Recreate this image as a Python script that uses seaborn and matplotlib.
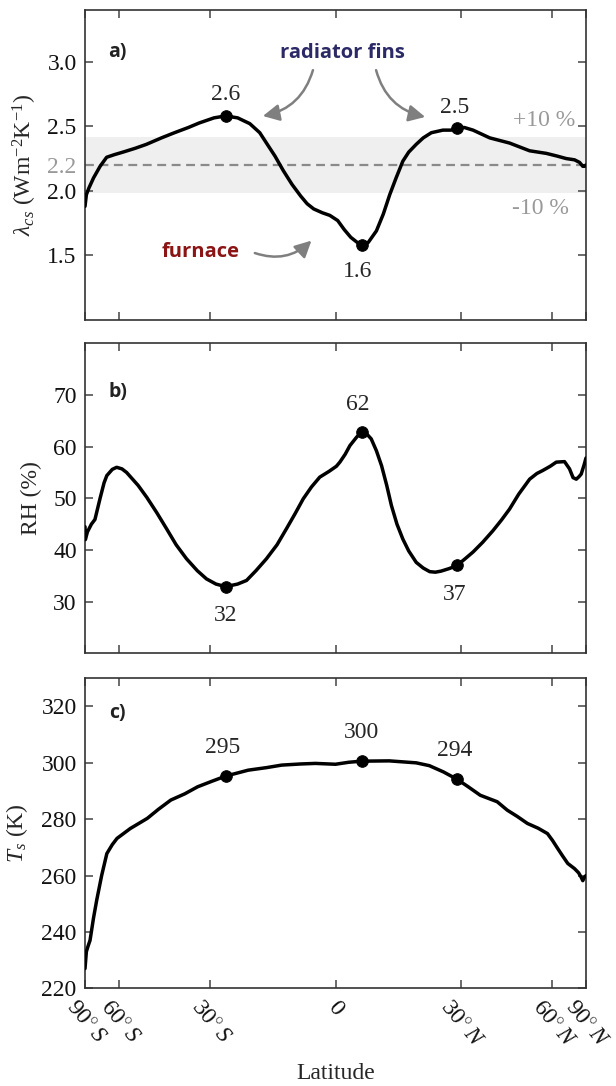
import numpy as np
import matplotlib
matplotlib.use("Agg")
import matplotlib.pyplot as plt
import seaborn as sns

# --- data (latitude in degrees) ---
lat_a = [-89.5, -84, -80, -75, -70, -66, -62, -58, -53, -49, -44, -40, -36, -33, -29,
         -26, -23, -20, -17.6, -16, -14, -12, -10, -8, -6.5, -5, -3, -1.3, 0.5, 2, 3.5,
         5, 6.2, 7.5, 9.4, 11, 12.5, 14, 15.6, 17, 18.8, 20.5, 22.5, 25.4, 27.5, 29.3,
         31, 33.3, 38, 44, 50.8, 57.3, 62, 67, 72.6, 77, 80.8, 84, 89.5]
lam_cs = [1.88, 1.97, 2.02, 2.10, 2.19, 2.26, 2.28, 2.30, 2.33, 2.36, 2.41, 2.45, 2.49, 2.525, 2.565,
          2.58, 2.565, 2.52, 2.45, 2.37, 2.27, 2.155, 2.05, 1.96, 1.90, 1.86, 1.83, 1.81, 1.77, 1.70, 1.64,
          1.60, 1.58, 1.60, 1.69, 1.82, 1.97, 2.10, 2.23, 2.30, 2.36, 2.41, 2.45, 2.47, 2.47, 2.49,
          2.49, 2.47, 2.41, 2.37, 2.31, 2.29, 2.27, 2.25, 2.24, 2.22, 2.19, 2.19, 2.20]

lat_b = [-89.5, -87, -82, -77, -73.8, -70.1, -67.5, -65.9, -63, -60.9, -58.5, -56.5, -52, -48.9,
         -45.5, -42.4, -39.5, -36.5, -33.5, -31, -28.5, -26, -23, -20.8, -18.5, -16, -13.5, -11.3,
         -9.3, -7.4, -5.5, -3.6, -1.5, 0.2, 1.0, 2.2, 3.3, 4.8, 6.0, 7.0, 8.2, 9.4, 10.6, 11.8,
         12.9, 14.2, 15.6, 17, 18.8, 20.5, 22.1, 23.5, 24.9, 27, 29, 31, 33.3, 36, 38.9, 41.5,
         44, 47, 50.8, 53.5, 55.9, 59, 61.8, 66.1, 69.1, 71.5, 74, 76.5, 78.8, 83, 89.5]
rh = [44.5, 42.0, 43.5, 45.0, 45.9, 49.9, 53.0, 54.4, 55.6, 56.0, 55.7, 55.0, 52.5, 50.2,
      47.2, 44.1, 41.0, 38.3, 36.0, 34.4, 33.4, 32.9, 33.4, 34.1, 36.0, 38.3, 41.0, 44.1,
      47.0, 49.9, 52.2, 54.1, 55.2, 56.2, 57.0, 58.5, 60.2, 61.8, 62.9, 62.6, 61.5, 59.2, 56.3, 52.5,
      48.6, 45.0, 42.1, 39.8, 37.6, 36.5, 35.8, 35.7, 35.9, 36.4, 37.0, 38.2, 39.6, 41.5, 43.7, 45.8,
      47.9, 50.8, 53.7, 54.8, 55.4, 56.2, 57.0, 57.1, 55.7, 54.0, 53.7, 54.2, 54.7, 56.5, 57.8]

lat_c = [-89.5, -84, -81, -78.5, -75, -72.4, -69, -65.9, -63, -60.7, -55, -48.7, -45, -41.1,
         -37, -33.4, -29.5, -26, -20.4, -16, -12.4, -8, -4.6, 0, 3, 6, 12.4, 18.8, 22, 25.5,
         29, 32, 35.3, 40.2, 43.3, 46.5, 50, 54, 57.8, 60, 62.5, 65, 68, 72.5, 76, 78.6,
         80.8, 84, 89.5]
ts = [227, 233, 235, 237, 245, 251.3, 260, 267.8, 271, 273.2, 276.7, 280.3, 283.5, 286.8,
      289, 291.5, 293.5, 295.3, 297.4, 298.3, 299.2, 299.6, 299.8, 299.5, 300.2, 300.6, 300.7, 300, 299, 296.8,
      294.2, 291.5, 288.5, 286.2, 283.2, 281, 278.5, 276.8, 274.9, 272.5, 269.6, 267, 264.3, 262.5, 261, 259.5,
      258.2, 259.5, 260]

mark_lat = [-26, 6, 29]
lam_mark = [2.58, 1.58, 2.49]
rh_mark = [32.9, 62.9, 37.0]
ts_mark = [295.3, 300.5, 294.2]
lam_text = ["2.6", "1.6", "2.5"]
rh_text = ["32", "62", "37"]
ts_text = ["295", "300", "294"]

lam_mean = 2.2
xticks = [-90, -60, -30, 0, 30, 60, 90]
xtick_labels = [r"$\mathit{90}^{\circ}\,\mathit{S}$", r"$\mathit{60}^{\circ}\,\mathit{S}$",
                r"$\mathit{30}^{\circ}\,\mathit{S}$", r"$\mathit{0}$",
                r"$\mathit{30}^{\circ}\,\mathit{N}$", r"$\mathit{60}^{\circ}\,\mathit{N}$",
                r"$\mathit{90}^{\circ}\,\mathit{N}$"]

sns.set_theme(style="ticks")
plt.rcParams["font.family"] = ["Liberation Serif", "DejaVu Serif"]
plt.rcParams["mathtext.fontset"] = "custom"
plt.rcParams["mathtext.rm"] = "Liberation Serif"
plt.rcParams["mathtext.it"] = "Liberation Serif:italic"
plt.rcParams["mathtext.bf"] = "Liberation Serif:bold"
plt.rcParams["axes.edgecolor"] = "#333333"
plt.rcParams["axes.linewidth"] = 1.2

FS = 17
SANS = ["Open Sans", "DejaVu Sans"]

fig = plt.figure(figsize=(6.16, 10.86), dpi=100)
W = 501 / 616
L = 85 / 616
H = 310 / 1086
ax_a = fig.add_axes([L, 1 - 320 / 1086, W, H])
ax_b = fig.add_axes([L, 1 - 653.3 / 1086, W, H])
ax_c = fig.add_axes([L, 1 - 988.3 / 1086, W, H])


def sinlat(x):
    return np.sin(np.radians(x))


def arcsinlat(y):
    return np.degrees(np.arcsin(np.clip(y, -1, 1)))


for ax in (ax_a, ax_b, ax_c):
    ax.set_xscale("function", functions=(sinlat, arcsinlat))
    ax.set_xlim(-90, 90)
    ax.set_xticks(xticks)
    ax.tick_params(direction="in", length=6, width=1.1, color="#444444",
                   top=True, right=True, labelsize=FS, labelcolor="#111111", pad=6)

# ---------- panel a ----------
ax = ax_a
ax.axhspan(lam_mean * 0.9, lam_mean * 1.1, color="#efefef", zorder=0, lw=0)
ax.axhline(lam_mean, color="#8a8a8a", lw=1.6, ls=(0, (4, 2.5)), zorder=1)
sns.lineplot(x=lat_a, y=lam_cs, ax=ax, color="black", lw=2.5, zorder=3)
sns.scatterplot(x=mark_lat, y=lam_mark, ax=ax, color="black", s=70, zorder=4, edgecolor="black")
ax.set_ylim(1.0, 3.4)
ax.set_yticks([1.5, 2.0, 2.2, 2.5, 3.0])
ax.set_yticklabels(["1.5", "2.0", "2.2", "2.5", "3.0"])
ax.get_yticklabels()[2].set_color("#999999")
ax.set_xticklabels([])
ax.set_ylabel(r"$\lambda_{cs}$ (Wm$^{-2}$K$^{-1}$)", fontsize=FS)
ax.yaxis.set_label_coords(-0.092, 0.5)
offs = [(0, 21), (-4, -26), (-2, 20)]
for xv, yv, t, o in zip(mark_lat, lam_mark, lam_text, offs):
    ax.annotate(t, (xv, yv), xytext=o, textcoords="offset pixels",
                ha="center", va="center", fontsize=FS)
ax.text(0.916, 0.645, "+10 %", transform=ax.transAxes, ha="center", va="center",
        fontsize=FS, color="#999999")
ax.text(0.910, 0.361, "-10 %", transform=ax.transAxes, ha="center", va="center",
        fontsize=FS, color="#999999")
ax.text(0.065, 0.866, "a)", transform=ax.transAxes, ha="center", va="center",
        fontsize=14, family=SANS, weight="bold", color="#222222")
ax.text(0.514, 0.861, "radiator fins", transform=ax.transAxes, ha="center", va="center",
        fontsize=14.5, family=SANS, weight="bold", color="#2b2a66")
ax.text(0.2305, 0.219, "furnace", transform=ax.transAxes, ha="center", va="center",
        fontsize=14.5, family=SANS, weight="bold", color="#8b1414")
arrow_kw = dict(arrowstyle="-|>,head_length=0.55,head_width=0.28", color="#7f7f7f",
                lw=1.8, mutation_scale=18, shrinkA=0, shrinkB=0)
ax.annotate("", xy=(0.355, 0.658), xytext=(0.455, 0.806), xycoords="axes fraction",
            arrowprops=dict(connectionstyle="arc3,rad=-0.3", **arrow_kw))
ax.annotate("", xy=(0.679, 0.655), xytext=(0.581, 0.806), xycoords="axes fraction",
            arrowprops=dict(connectionstyle="arc3,rad=0.3", **arrow_kw))
ax.annotate("", xy=(0.452, 0.256), xytext=(0.339, 0.216), xycoords="axes fraction",
            arrowprops=dict(connectionstyle="arc3,rad=0.3", **arrow_kw))

# ---------- panel b ----------
ax = ax_b
sns.lineplot(x=lat_b, y=rh, ax=ax, color="black", lw=2.5, zorder=3)
sns.scatterplot(x=mark_lat, y=rh_mark, ax=ax, color="black", s=70, zorder=4, edgecolor="black")
ax.set_ylim(20, 80)
ax.set_yticks([30, 40, 50, 60, 70])
ax.set_xticklabels([])
ax.set_ylabel("RH (%)", fontsize=FS)
ax.yaxis.set_label_coords(-0.085, 0.5)
offs = [(0, -29), (-4, 27), (-2, -29)]
for xv, yv, t, o in zip(mark_lat, rh_mark, rh_text, offs):
    ax.annotate(t, (xv, yv), xytext=o, textcoords="offset pixels",
                ha="center", va="center", fontsize=FS)
ax.text(0.065, 0.844, "b)", transform=ax.transAxes, ha="center", va="center",
        fontsize=14, family=SANS, weight="bold", color="#222222")

# ---------- panel c ----------
ax = ax_c
sns.lineplot(x=lat_c, y=ts, ax=ax, color="black", lw=2.5, zorder=3)
sns.scatterplot(x=mark_lat, y=ts_mark, ax=ax, color="black", s=70, zorder=4, edgecolor="black")
ax.set_ylim(220, 330)
ax.set_yticks([220, 240, 260, 280, 300, 320])
ax.set_xticklabels(xtick_labels, rotation=-50, ha="center", va="top", fontsize=FS)
ax.set_ylabel(r"$T_s$ (K)", fontsize=FS)
ax.yaxis.set_label_coords(-0.11, 0.5)
ax.set_xlabel("Latitude", fontsize=FS)
ax.xaxis.set_label_coords(0.5, -0.24)
offs = [(-3, 29), (0, 29), (-2, 29)]
for xv, yv, t, o in zip(mark_lat, ts_mark, ts_text, offs):
    ax.annotate(t, (xv, yv), xytext=o, textcoords="offset pixels",
                ha="center", va="center", fontsize=FS)
ax.text(0.065, 0.887, "c)", transform=ax.transAxes, ha="center", va="center",
        fontsize=14, family=SANS, weight="bold", color="#222222")

fig.savefig("out.png", dpi=100)
